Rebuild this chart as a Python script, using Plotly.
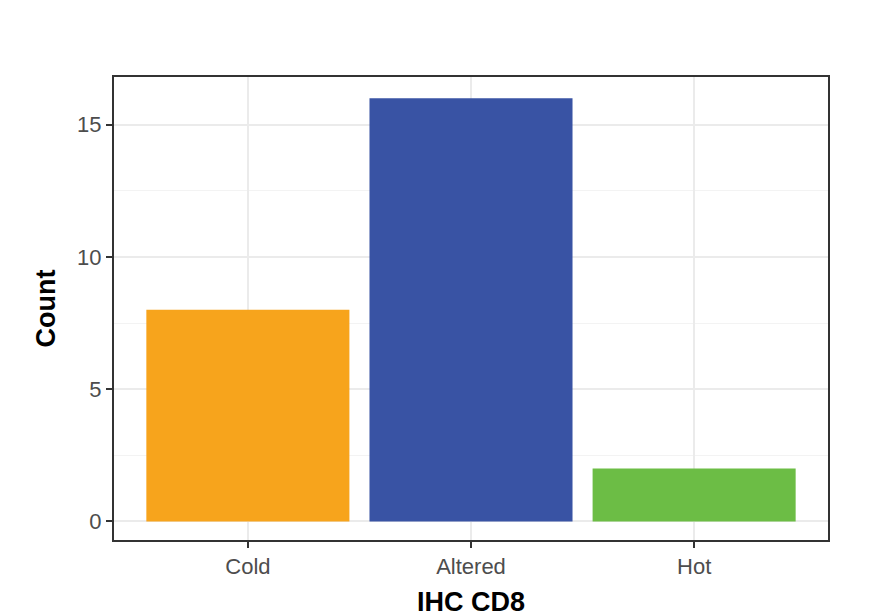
import plotly.graph_objects as go

categories = ["Cold", "Altered", "Hot"]
counts = [8, 16, 2]
colors = ["#F7A41C", "#3953A4", "#6CBD45"]

fig = go.Figure(go.Bar(
    x=categories,
    y=counts,
    marker=dict(color=colors, line=dict(width=0)),
    width=0.91,
))

fig.update_layout(
    width=896, height=616,
    margin=dict(l=106, r=76, t=69, b=80),
    paper_bgcolor="white",
    plot_bgcolor="white",
    showlegend=False,
    font=dict(family="Liberation Sans, Arial", color="#4d4d4d"),
)
fig.update_xaxes(
    title=dict(text="<b>IHC CD8</b>", font=dict(size=27, color="black"), standoff=14),
    tickfont=dict(size=22, color="#4d4d4d"),
    showgrid=True, gridcolor="#ebebeb", gridwidth=2,
    ticks="outside", ticklen=6, tickcolor="#333333", tickwidth=2,
    showline=True, linecolor="#333333", linewidth=2, mirror=True,
    range=[-0.6, 2.6],
)
fig.update_yaxes(
    title=dict(text="<b>Count</b>", font=dict(size=27, color="black"), standoff=14),
    tickfont=dict(size=22, color="#4d4d4d"),
    tickvals=[0, 5, 10, 15],
    range=[-0.7, 16.8],
    showgrid=True, gridcolor="#ebebeb", gridwidth=2,
    minor=dict(tickvals=[2.5, 7.5, 12.5], showgrid=True, gridcolor="#f3f3f3", gridwidth=1),
    zeroline=False,
    ticks="outside", ticklen=6, tickcolor="#333333", tickwidth=2,
    showline=True, linecolor="#333333", linewidth=2, mirror=True,
)

fig.write_html("out.html")
